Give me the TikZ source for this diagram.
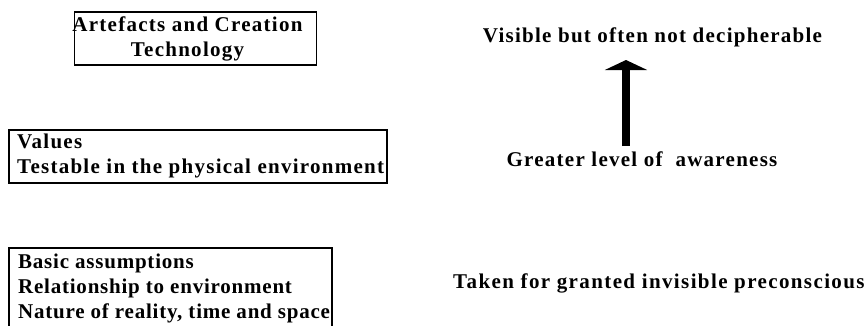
\documentclass[tikz,border=0pt]{standalone}
\usepackage{fontspec}
\setmainfont{Liberation Serif}
\usetikzlibrary{arrows.meta,positioning}

\begin{document}
\begin{tikzpicture}[x=1pt,y=1pt,
  layer box/.style={draw,line width=1.8pt,inner sep=0pt},
  layer text/.style={inner sep=0pt,
    font=\fontsize{21}{25}\selectfont\bfseries\addfontfeatures{LetterSpace=#1}},
  layer text/.default=6,
  awareness/.style={-{Triangle[width=42pt,length=10pt]},line width=8pt}]

  \useasboundingbox (0,0) rectangle (868,325);

  % the three levels, top to bottom
  \node[layer box,minimum width=242pt,minimum height=53pt] (artbox) at (195.5,286.5) {};
  \node[layer text,align=center,anchor=base] (art) at (187.5,269) {Artefacts and Creation\\Technology};

  \node[layer box,minimum width=378pt,minimum height=53pt] (valbox) at (198,168.5) {};
  \node[layer text,align=left,anchor=base west] (val) at (17,152) {Values\\Testable in the physical environment};

  \node[layer box,minimum width=323pt,minimum height=92pt] (basicbox) at (170.5,31) {};
  \node[layer text=3.7,align=left,anchor=base west] (basic) at (18,7) {Basic assumptions\\Relationship to environment\\Nature of reality, time and space};

  % right column
  \node[layer text,anchor=base] (visible) at (652.5,283) {Visible but often not decipherable};
  \node[layer text,anchor=base] (aware) at (642,159) {Greater level of\ \ awareness};
  \node[layer text=6.6,anchor=base west] (taken) at (453,37) {Taken for granted invisible preconscious};

  \coordinate (low) at (626,179);
  \coordinate (high) at (626,265);
  \draw[awareness] (low) -- (high);
\end{tikzpicture}
\end{document}
